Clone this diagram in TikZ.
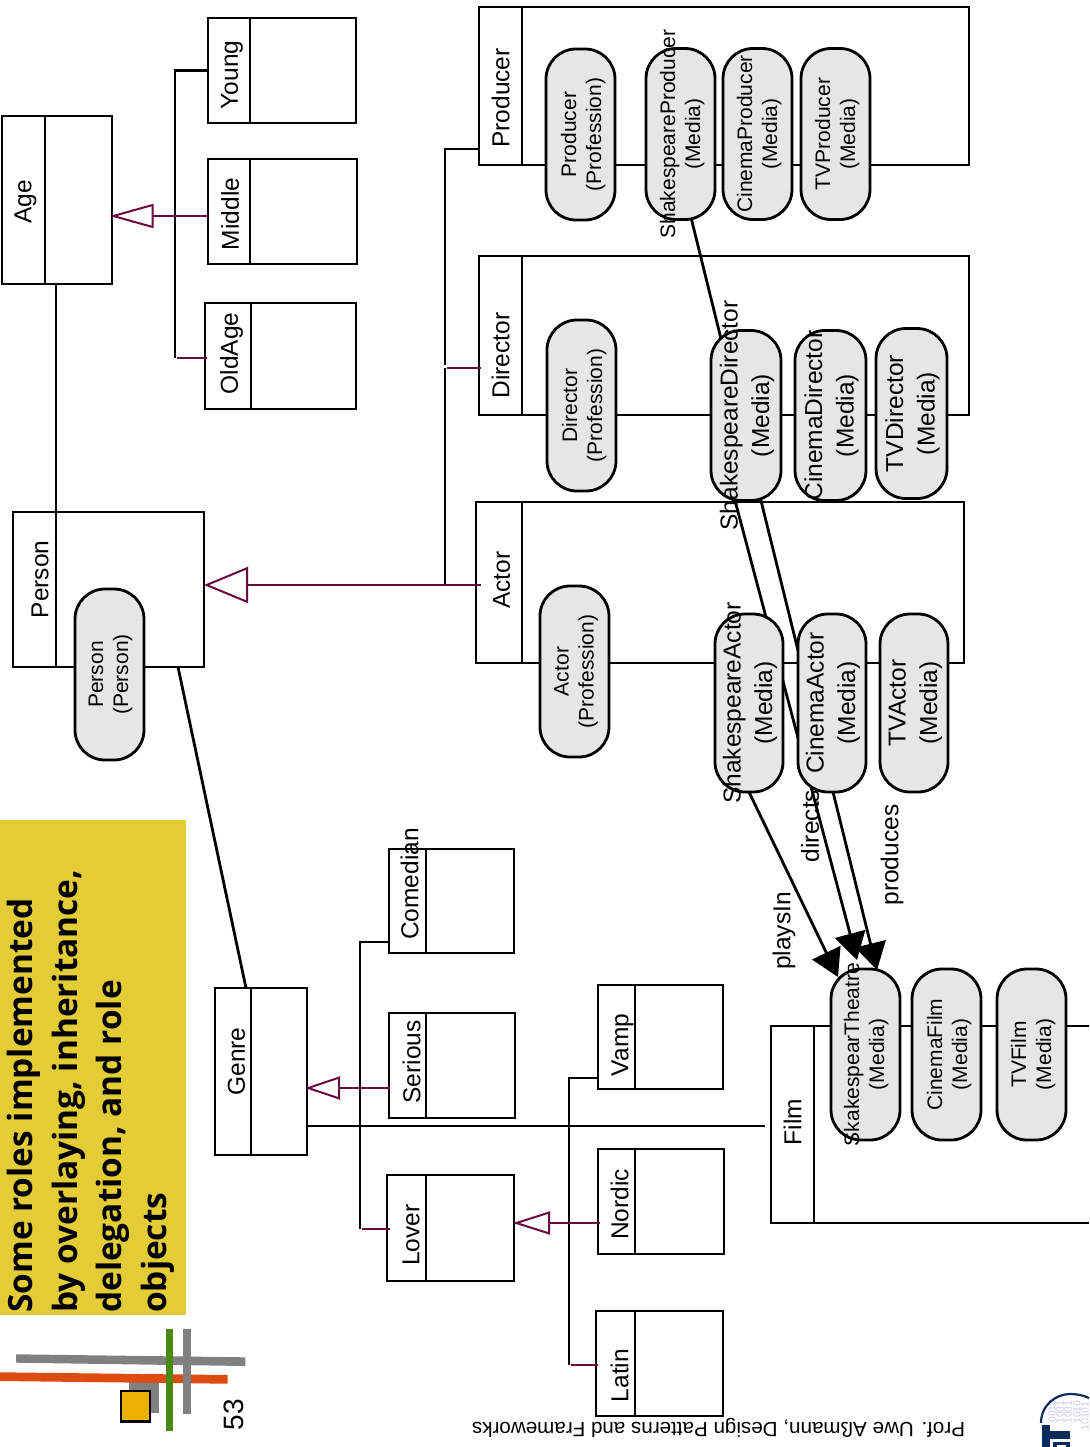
\documentclass[tikz,border=0pt]{standalone}
\usepackage{xcolor}
\usepackage{graphicx}
\usepackage{fontspec}
\setmainfont{Liberation Sans}
\newfontfamily\titlefont{Open Sans}
\usepackage{tikz}
\usetikzlibrary{arrows.meta,positioning,backgrounds}

\definecolor{rolered}{HTML}{6B0A3F}
\definecolor{pillgray}{HTML}{E6E6E6}
\definecolor{titleyellow}{HTML}{E3CC35}
\definecolor{barorange}{HTML}{DD4B0F}
\definecolor{bargreen}{HTML}{4A8A12}
\definecolor{bargray}{HTML}{808080}
\definecolor{squareyellow}{HTML}{EBB000}
\definecolor{logoblue}{HTML}{0A2C5C}
\definecolor{logodigit}{HTML}{C9C9E8}

% text turned a quarter, neither its length nor its nudge count for the node
\newlength{\nudgelen}
\newcommand{\turned}[2][0pt]{\hspace*{\nudgelen}\rotatebox{90}{\makebox[0pt]{\hspace*{#1}\begin{tabular}{@{}c@{}}#2\end{tabular}}}\hspace*{-\nudgelen}}

\begin{document}
\begin{tikzpicture}[
    x=1pt, y=-1pt,
    nudge/.style={execute at begin node={\setlength{\nudgelen}{#1pt}}},
    classname/.style={rectangle, draw, line width=2.8pt, inner sep=0pt, outer sep=0pt, anchor=north west, font=\fontsize{24.5}{29}\selectfont},
    classbody/.style={rectangle, draw, line width=2.8pt, inner sep=0pt, outer sep=0pt},
    rolepill/.style={rectangle, draw, fill=pillgray, line width=2.8pt, rounded corners=30pt, inner sep=0pt, outer sep=0pt, minimum width=69, minimum height=171, nudge=2, font=\fontsize{21}{25}\selectfont},
    bigpill/.style={rolepill, minimum height=176, nudge=1, font=\fontsize{24.5}{31.5}\selectfont},
    assoc/.style={draw, line width=2.8pt},
    genlink/.style={draw=rolered, line width=2pt},
    linklabel/.style={inner sep=0pt, font=\fontsize{24.5}{29}\selectfont},
    playarrow/.style={assoc, -{Triangle[length=27pt,width=31pt]}}]
    \useasboundingbox (0,0) rectangle (1089,1447);

    % age classes
    \node[classname, nudge=2, minimum width=43, minimum height=168] (AgeName) at (2,116) {\turned[-4pt]{Age}};
    \node[classbody, minimum width=67, minimum height=168, right=0pt of AgeName] (AgeBody) {};
    \node[classname, nudge=3, minimum width=42, minimum height=105] (YoungName) at (208,18) {\turned[-9pt]{Young}};
    \node[classbody, minimum width=106, minimum height=105, right=0pt of YoungName] (YoungBody) {};
    \node[classname, nudge=4, minimum width=42, minimum height=105] (MiddleName) at (208,159) {\turned[-5pt]{Middle}};
    \node[classbody, minimum width=107, minimum height=105, right=0pt of MiddleName] (MiddleBody) {};
    \node[classname, nudge=4, minimum width=46, minimum height=106] (OldAgeName) at (205,303) {\turned[5pt]{OldAge}};
    \node[classbody, minimum width=105, minimum height=106, right=0pt of OldAgeName] (OldAgeBody) {};

    % person and professions
    \node[classname, nudge=8, minimum width=43, minimum height=155] (PersonName) at (13,512) {\turned[20pt]{Person}};
    \node[classbody, minimum width=148, minimum height=155, right=0pt of PersonName] (PersonBody) {};
    \node[classname, nudge=3, minimum width=43, minimum height=158] (ProducerName) at (479,7) {\turned[-24pt]{Producer}};
    \node[classbody, minimum width=447, minimum height=158, right=0pt of ProducerName] (ProducerBody) {};
    \node[classname, nudge=3, minimum width=43, minimum height=159] (DirectorName) at (479,256) {\turned[-40pt]{Director}};
    \node[classbody, minimum width=447, minimum height=159, right=0pt of DirectorName] (DirectorBody) {};
    \node[classname, nudge=5, minimum width=46, minimum height=161] (ActorName) at (476,502) {\turned[5pt]{Actor}};
    \node[classbody, minimum width=442, minimum height=161, right=0pt of ActorName] (ActorBody) {};

    % genre classes
    \node[classname, nudge=6, minimum width=36, minimum height=167] (GenreName) at (215,988) {\turned[20pt]{Genre}};
    \node[classbody, minimum width=56, minimum height=167, right=0pt of GenreName] (GenreBody) {};
    \node[classname, nudge=5, minimum width=37, minimum height=104] (ComedianName) at (389,849) {\turned[34pt]{Comedian}};
    \node[classbody, minimum width=88, minimum height=104, right=0pt of ComedianName] (ComedianBody) {};
    \node[classname, nudge=7, minimum width=37, minimum height=105] (SeriousName) at (389,1013) {\turned[7pt]{Serious}};
    \node[classbody, minimum width=89, minimum height=105, right=0pt of SeriousName] (SeriousBody) {};
    \node[classname, nudge=7, minimum width=39, minimum height=106] (LoverName) at (387,1175) {\turned[-14pt]{Lover}};
    \node[classbody, minimum width=88, minimum height=106, right=0pt of LoverName] (LoverBody) {};
    \node[classname, nudge=6, minimum width=37, minimum height=104] (VampName) at (598,985) {\turned[-16pt]{Vamp}};
    \node[classbody, minimum width=88, minimum height=104, right=0pt of VampName] (VampBody) {};
    \node[classname, nudge=6, minimum width=37, minimum height=105] (NordicName) at (598,1149) {\turned[-6pt]{Nordic}};
    \node[classbody, minimum width=89, minimum height=105, right=0pt of NordicName] (NordicBody) {};
    \node[classname, nudge=7, minimum width=39, minimum height=105] (LatinName) at (596,1311) {\turned[-24pt]{Latin}};
    \node[classbody, minimum width=88, minimum height=105, right=0pt of LatinName] (LatinBody) {};

    % film runs off the page
    \node[classname, nudge=3, minimum width=43, minimum height=197] (FilmName) at (771,1026) {\turned[5pt]{Film}};
    \coordinate (filmtop) at (1089,1026);
    \coordinate (filmbottom) at (1089,1223);
    \draw[assoc] (FilmName.north east) -- (filmtop);
    \draw[assoc] (FilmName.south east) -- (filmbottom);

    % roles
    \node[rolepill, nudge=1] (PersonRole) at (109.5,674.5) {\turned{Person\\(Person)}};
    \node[rolepill, nudge=3] (ProducerRole) at (580.5,134.5) {\turned{Producer\\(Profession)}};
    \node[rolepill] (ShakespeareProducer) at (680.5,134) {\turned{ShakespeareProducer\\(Media)}};
    \node[rolepill, right=8pt of ShakespeareProducer] (CinemaProducer) {\turned{CinemaProducer\\(Media)}};
    \node[rolepill, right=9pt of CinemaProducer] (TVProducer) {\turned{TVProducer\\(Media)}};
    \node[rolepill, nudge=3] (DirectorRole) at (581.5,405.5) {\turned{Director\\(Profession)}};
    \node[bigpill, minimum height=170, minimum width=70] (ShakespeareDirector) at (746,415.5) {\turned{ShakespeareDirector\\(Media)}};
    \node[bigpill, minimum height=170, minimum width=71, right=14pt of ShakespeareDirector] (CinemaDirector) {\turned{CinemaDirector\\(Media)}};
    \node[bigpill, minimum height=170, minimum width=71, right=10pt of CinemaDirector, yshift=2pt] (TVDirector) {\turned{TVDirector\\(Media)}};
    \node[rolepill, nudge=1.5] (ActorRole) at (574.5,671.5) {\turned{Actor\\(Profession)}};
    \node[bigpill, minimum width=68, minimum height=178] (ShakespeareActor) at (749,703) {\turned{ShakespeareActor\\(Media)}};
    \node[bigpill, minimum width=68, minimum height=178, right=15pt of ShakespeareActor] (CinemaActor) {\turned{CinemaActor\\(Media)}};
    \node[bigpill, minimum width=68, minimum height=178, right=14pt of CinemaActor] (TVActor) {\turned{TVActor\\(Media)}};
    \node[rolepill, nudge=1] (SkakespearTheatre) at (865.5,1054.5) {\turned{SkakespearTheatre\\(Media)}};
    \node[rolepill, nudge=3, right=12pt of SkakespearTheatre] (CinemaFilm) {\turned{CinemaFilm\\(Media)}};
    \node[rolepill, right=16pt of CinemaFilm] (TVFilm) {\turned{TVFilm\\(Media)}};

    % bus points of the inheritance trees
    \coordinate (agebus) at (175,216);
    \coordinate (oldagebus) at (175,358);
    \coordinate (personbus) at (445,585);
    \coordinate (producerbus) at (445,149);
    \coordinate (directorgap) at (445,364.5);
    \coordinate (directorbus) at (445,368);
    \coordinate (genrebus) at (360,1088);
    \coordinate (loverbus) at (360,1229);
    \coordinate (comedianbus) at (360,942);
    \coordinate (filmstub) at (765,1126);
    \coordinate (loverhead) at (569,1223);
    \coordinate (vampbus) at (569,1078);
    \coordinate (latinbus) at (569,1365);

    \begin{scope}[on background layer]
        \draw[assoc] (YoungName.west) -- (YoungName.west -| agebus) -- (oldagebus);
        \draw[assoc] (ProducerName.west |- producerbus) -- (producerbus) -- (directorgap);
        \draw[assoc] (directorbus) -- (personbus);
        \draw[assoc] (ComedianName.west |- comedianbus) -- (comedianbus) -- (loverbus);
        \draw[assoc] (VampName.west |- vampbus) -- (vampbus) -- (latinbus);
        \draw[assoc] (GenreBody.east |- filmstub) -- (filmstub);
        \draw[assoc] (PersonBody.north west) -- (PersonBody.north west |- AgeBody.south);
        \draw[assoc] ([xshift=48pt]PersonBody.south) -- ([xshift=-5pt]GenreName.north east);
        \draw[playarrow] (ShakespeareActor.south) -- ([xshift=-27.5pt,yshift=-8pt]SkakespearTheatre.north);
        \draw[playarrow] ([xshift=-11pt]ShakespeareDirector.south) -- ([xshift=-8.5pt,yshift=9pt]SkakespearTheatre.north);
        \draw[playarrow] ([xshift=11pt]ShakespeareProducer.south) -- ([xshift=11.5pt,yshift=-1pt]SkakespearTheatre.north);
    \end{scope}

    % generalisation
    \draw[genlink] (oldagebus) ++(2,0) -- ([xshift=2pt]OldAgeName.west |- oldagebus);
    \draw[genlink] (directorbus) ++(2,0) -- ([xshift=2pt]DirectorName.west |- directorbus);
    \draw[genlink] (loverbus) ++(2,0) -- ([xshift=3pt]LoverName.west |- loverbus);
    \draw[genlink] (latinbus) ++(2,0) -- ([xshift=2pt]LatinName.west |- latinbus);
    \draw[genlink, -{Triangle[open,length=44pt,width=24pt]}] ([xshift=1pt]MiddleName.west |- agebus) -- ([xshift=-2.5pt]AgeBody.east |- agebus);
    \draw[genlink, -{Triangle[open,length=44pt,width=36pt]}] ([xshift=5pt]ActorName.west |- personbus) -- (PersonBody.east |- personbus);
    \draw[genlink, -{Triangle[open,length=35pt,width=23pt]}] ([xshift=1pt]SeriousName.west |- genrebus) -- ([xshift=-2pt]GenreBody.east |- genrebus);
    \draw[genlink, -{Triangle[open,length=37pt,width=23pt]}] ([xshift=2pt]NordicName.west |- loverhead) -- ([xshift=-1pt]LoverBody.east |- loverhead);

    % association names
    \node[linklabel, rotate=90] (PlaysIn) at (784,931) {playsIn};
    \node[linklabel, rotate=90] (Directs) at (810,826) {directs};
    \node[linklabel, rotate=90] (Produces) at (892,855) {produces};

    % slide frame
    \node[rectangle, fill=titleyellow, inner sep=0pt, outer sep=0pt, anchor=north west, minimum width=186, minimum height=495] (TitleBar) at (0,820) {};
    \node[rotate=90, anchor=north west, align=left, inner sep=0pt, font=\titlefont\bfseries\fontsize{33.4}{44.5}\selectfont] (TitleText) at (7,1313) {Some roles implemented\\by overlaying, inheritance,\\delegation, and role\\objects};
    \node[rotate=180, inner sep=0pt, font=\fontsize{20.6}{24}\selectfont] (Footer) at (718.5,1428) {Prof. Uwe Aßmann, Design Patterns and Frameworks};
    \node[rotate=90, inner sep=0pt, font=\fontsize{28}{32}\selectfont] (PageNumber) at (234,1414.5) {53};

    % corner logo
    \fill[bargray] (129,1381.7) rectangle (159.3,1412.7);
    \fill[bargray] (16,1354.3) -- (245.3,1357.3) -- (245.3,1366) -- (16,1362.7) -- cycle;
    \fill[barorange] (0,1372.3) -- (227.7,1375) -- (227.7,1383.7) -- (0,1381) -- cycle;
    \fill[bargray] (183.3,1329.3) rectangle (191,1413.7);
    \fill[bargreen] (166,1329.3) rectangle (173.3,1431);
    \draw[line width=2.4pt, fill=squareyellow] (121,1390.7) rectangle (150,1421.3);

    % university logo, cut by the page
    \foreach \rowx/\rowy/\digits in {1052/1411/0010, 1060/1412/1001, 1068/1412/1001, 1077/1412/1010, 1085/1416/10101} {
        \node[rotate=90, inner sep=0pt, text=logodigit, font=\fontsize{10.5}{12}\selectfont] at (\rowx,\rowy) {\digits};
    }
    \draw[logoblue, line width=2.2pt] (1041,1423) .. controls (1041,1405) and (1056,1394) .. (1070,1394) .. controls (1076,1394) and (1083,1395) .. (1089,1398);
    \fill[logoblue] (1042,1425) rectangle (1050,1447);
    \fill[logoblue] (1050,1431) rectangle (1070,1439);
    \draw[logoblue, line width=3.5pt] (1055,1447) -- (1055,1443.5) -- (1068,1443.5) -- (1068,1447);
\end{tikzpicture}
\end{document}
